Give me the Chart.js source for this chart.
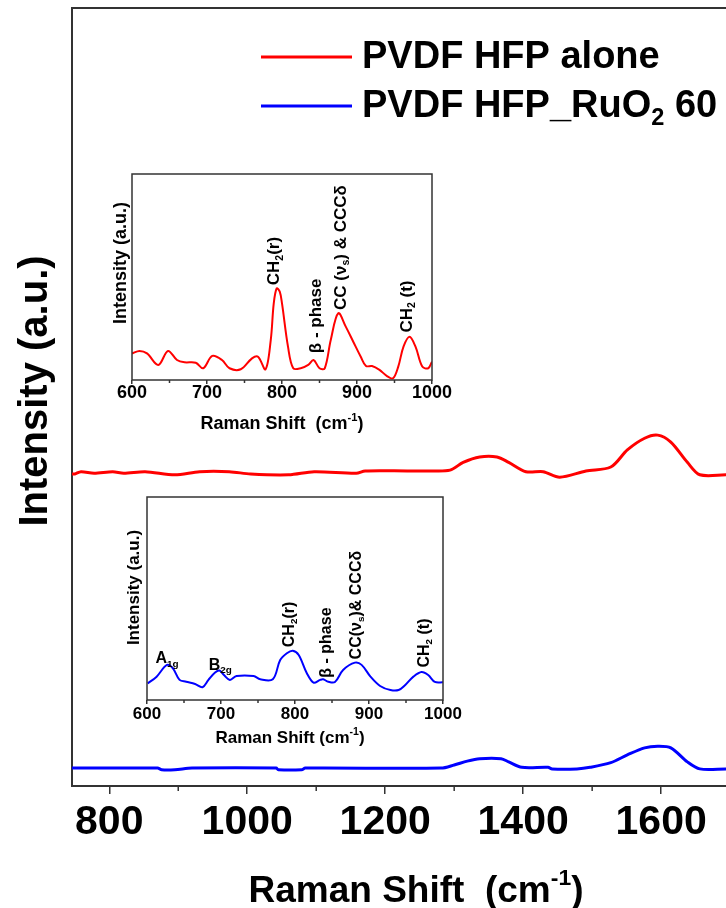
<!DOCTYPE html>
<html>
<head>
<meta charset="utf-8">
<script src="https://cdn.jsdelivr.net/npm/chart.js@4.4.1/dist/chart.umd.min.js"></script>
<style>
  body { margin: 0; background: #fff; }
  #wrap { position: relative; width: 726px; height: 908px; overflow: hidden; }
  canvas { position: absolute; }
</style>
</head>
<body>
<div id="wrap">
  <canvas id="main" width="726" height="908" style="left:0;top:0"></canvas>
  <canvas id="inset1" width="380" height="290" style="left:100px;top:160px"></canvas>
  <canvas id="inset2" width="380" height="290" style="left:115px;top:480px"></canvas>
</div>
<script>
// main spectra (arbitrary intensity units)
const shiftRed = [746, 750, 759, 778, 805, 821, 852, 895, 931, 974, 1005, 1060, 1097, 1158, 1171, 1232, 1264, 1294, 1313, 1337, 1362, 1379, 1404, 1429, 1453, 1491, 1527, 1551, 1576, 1595, 1614, 1638, 1656, 1694];
const intRed = [40.1, 40.1, 40.4, 40.2, 40.4, 40.2, 40.4, 40.0, 40.4, 40.4, 40.1, 40.0, 40.4, 40.2, 40.5, 40.5, 40.5, 40.6, 41.6, 42.3, 42.3, 41.6, 40.4, 40.4, 39.7, 40.5, 41.0, 43.2, 44.7, 45.1, 44.2, 41.6, 40.0, 40.0];
const shiftBlue = [746, 870, 876, 895, 920, 1042, 1045, 1079, 1084, 1281, 1300, 1319, 1337, 1368, 1379, 1398, 1436, 1442, 1478, 1497, 1527, 1551, 1576, 1595, 1614, 1638, 1656, 1694];
const intBlue = [2.3, 2.3, 2.1, 2.1, 2.3, 2.3, 2.1, 2.1, 2.3, 2.3, 2.7, 3.2, 3.5, 3.5, 3.1, 2.4, 2.4, 2.2, 2.2, 2.4, 3.0, 4.0, 4.9, 5.1, 4.9, 3.1, 2.2, 2.2];
const seriesNames = ['PVDF HFP alone', 'PVDF HFP_RuO_{2} 60'];
const mainMajorTicks = [800, 1000, 1200, 1400, 1600];
const mainMinorTicks = [900, 1100, 1300, 1500, 1700];

// inset 1 : PVDF HFP alone, 600-1000
const in1Shift = [600, 610, 620, 635, 648, 660, 670, 685, 695, 707, 720, 730, 745, 760, 768, 778, 785, 789, 793, 797, 800, 808, 815, 825, 835, 842, 850, 857, 865, 875, 885, 895, 905, 912, 920, 930, 940, 948, 955, 962, 970, 978, 987, 995, 1000];
const in1Int = [12.9, 14.1, 12.9, 7.3, 14.1, 9.7, 8.6, 8.4, 5.7, 11.7, 9.7, 5.7, 5.2, 10.5, 11.3, 5.2, 19.4, 37.2, 44.5, 42.9, 37.2, 16.2, 5.7, 5.7, 7.3, 9.7, 5.7, 5.7, 19.4, 32.4, 25.9, 18.6, 11.3, 6.8, 6.8, 4.9, 1.9, 0.8, 6.5, 16.2, 21.0, 16.2, 6.5, 5.7, 8.9];
const in1Peaks = ['CH_{2}(r)', 'β - phase', 'CC (ν_{s}) & CCCδ', 'CH_{2} (t)'];
const in1PeakX = [788, 844, 877, 965];
const in1PeakY = [46, 13, 34, 23];

// inset 2 : PVDF HFP_RuO2, 600-1000
const in2Shift = [601, 613, 627, 635, 644, 653, 665, 675, 683, 692, 698, 704, 712, 721, 744, 753, 770, 780, 789, 797, 805, 816, 825, 834, 838, 845, 854, 865, 881, 890, 902, 915, 929, 940, 949, 960, 971, 980, 989, 1000];
const in2Int = [8.2, 11.5, 17.3, 15.6, 9.9, 9.0, 7.9, 6.3, 9.9, 13.5, 14.5, 12.3, 9.9, 11.8, 11.8, 10.2, 10.2, 19.7, 23.0, 24.3, 22.2, 13.2, 8.6, 9.9, 10.2, 9.0, 8.9, 14.8, 18.4, 17.3, 11.5, 6.9, 4.9, 4.9, 7.4, 11.5, 13.8, 12.3, 8.9, 8.7];
const in2Peaks = ['A_{1g}', 'B_{2g}', 'CH_{2}(r)', 'β - phase', 'CC(ν_{s})& CCCδ', 'CH_{2} (t)'];
const in2PeakX = [627, 699, 791, 841, 881, 973];
const in2PeakY = [18, 15, 26, 11, 20, 16];

const insetMajorTicks = [600, 700, 800, 900, 1000];
const insetMinorTicks = [650, 750, 850, 950];

const FONT = '"Liberation Sans", Arial, sans-serif';

// text with _{sub} and ^{sup} parts
function parseRich(str) {
  const parts = [];
  const re = /([_^])\{([^}]*)\}/g;
  let last = 0, m;
  while ((m = re.exec(str))) {
    if (m.index > last) parts.push({ t: str.slice(last, m.index), k: 0 });
    parts.push({ t: m[2], k: m[1] === '_' ? 1 : -1 });
    last = re.lastIndex;
  }
  if (last < str.length) parts.push({ t: str.slice(last), k: 0 });
  return parts;
}

function drawRich(ctx, str, x, y, size, weight, align) {
  const parts = parseRich(str);
  let w = 0;
  parts.forEach(p => {
    p.size = p.k ? size * 0.62 : size;
    ctx.font = weight + ' ' + p.size + 'px ' + FONT;
    p.w = ctx.measureText(p.t).width;
    w += p.w;
  });
  let cx = align === 'center' ? x - w / 2 : x;
  ctx.textAlign = 'left';
  ctx.textBaseline = 'alphabetic';
  parts.forEach(p => {
    ctx.font = weight + ' ' + p.size + 'px ' + FONT;
    const dy = p.k === 1 ? size * 0.22 : (p.k === -1 ? -size * 0.45 : 0);
    ctx.fillText(p.t, cx, y + dy);
    cx += p.w;
  });
  return w;
}

function toPoints(xs, ys) {
  return xs.map((v, i) => ({ x: v, y: ys[i] }));
}

const mainDecor = {
  id: 'mainDecor',
  afterDraw(chart) {
    const { ctx, chartArea: a, scales: { x } } = chart;
    ctx.save();
    ctx.strokeStyle = '#333';
    ctx.lineWidth = 2;
    ctx.beginPath();
    ctx.moveTo(a.left, a.top);
    ctx.lineTo(a.right, a.top);
    ctx.stroke();
    ctx.lineWidth = 1.5;
    mainMinorTicks.forEach(v => {
      const px = x.getPixelForValue(v);
      if (px > a.right) return;
      ctx.beginPath();
      ctx.moveTo(px, a.bottom);
      ctx.lineTo(px, a.bottom + 5);
      ctx.stroke();
    });
    ctx.fillStyle = '#000';
    drawRich(ctx, 'Raman Shift  (cm^{-1})', a.left + 344, 902, 37, 'bold', 'center');
    ctx.translate(33, (a.top + a.bottom) / 2 - 6);
    ctx.rotate(-Math.PI / 2);
    drawRich(ctx, 'Intensity (a.u.)', 0, 40 * 0.35, 40, 'bold', 'center');
    ctx.restore();

    // legend
    ctx.save();
    chart.data.datasets.forEach((ds, i) => {
      const yy = 57 + i * 49;
      ctx.strokeStyle = ds.borderColor;
      ctx.lineWidth = 3;
      ctx.beginPath();
      ctx.moveTo(261, yy);
      ctx.lineTo(352, yy);
      ctx.stroke();
      ctx.fillStyle = '#000';
      drawRich(ctx, ds.label, 362, yy + 11, 38, 'bold', 'left');
    });
    ctx.restore();
  }
};

new Chart(document.getElementById('main'), {
  type: 'line',
  data: {
    datasets: [
      { label: seriesNames[0], data: toPoints(shiftRed, intRed), borderColor: '#ff0000', borderWidth: 3, pointRadius: 0, tension: 0.3 },
      { label: seriesNames[1], data: toPoints(shiftBlue, intBlue), borderColor: '#0000ff', borderWidth: 3, pointRadius: 0, tension: 0.3 }
    ]
  },
  options: {
    responsive: false,
    animation: false,
    layout: { padding: { top: 8, left: 0, right: 0, bottom: 0 } },
    plugins: { legend: { display: false }, tooltip: { enabled: false } },
    scales: {
      x: {
        type: 'linear',
        min: 746,
        max: 1694,
        grid: { drawOnChartArea: false, tickLength: 8, color: '#333', lineWidth: 1.5 },
        border: { display: true, color: '#333', width: 2 },
        ticks: {
          color: '#000', padding: 4, maxRotation: 0, autoSkip: false,
          font: { family: FONT, size: 41, weight: 'bold' },
          callback: v => String(v)
        },
        afterBuildTicks: s => { s.ticks = mainMajorTicks.map(v => ({ value: v })); },
        afterFit: s => { s.height = 122; }
      },
      y: {
        min: 0,
        max: 100,
        grid: { display: false },
        border: { display: true, color: '#333', width: 2 },
        ticks: { display: false },
        afterFit: s => { s.width = 72; }
      }
    }
  },
  plugins: [mainDecor]
});

function makeInset(id, xs, ys, color, cfg) {
  const decor = {
    id: 'insetDecor',
    afterDraw(chart) {
      const { ctx, chartArea: a, scales: { x, y } } = chart;
      ctx.save();
      ctx.strokeStyle = '#333';
      ctx.lineWidth = 1.5;
      ctx.strokeRect(a.left, a.top, a.right - a.left, a.bottom - a.top);
      insetMinorTicks.forEach(v => {
        const px = x.getPixelForValue(v);
        ctx.beginPath();
        ctx.moveTo(px, a.bottom);
        ctx.lineTo(px, a.bottom + 3);
        ctx.stroke();
      });
      ctx.fillStyle = '#000';
      drawRich(ctx, cfg.xTitle, (a.left + a.right) / 2 + cfg.xTitleDx, a.bottom + cfg.xTitleDy, cfg.titleSize, 'bold', 'center');
      ctx.save();
      ctx.translate(a.left + cfg.yTitleDx, (a.top + a.bottom) / 2 + cfg.yTitleDy);
      ctx.rotate(-Math.PI / 2);
      drawRich(ctx, 'Intensity (a.u.)', 0, cfg.titleSize * 0.35, cfg.titleSize, 'bold', 'center');
      ctx.restore();
      cfg.labels.forEach((t, i) => {
        const px = x.getPixelForValue(cfg.lx[i]);
        const py = y.getPixelForValue(cfg.ly[i]);
        if (cfg.upright && cfg.upright[i]) {
          drawRich(ctx, t, px, py, cfg.labelSize, 'bold', 'center');
        } else {
          ctx.save();
          ctx.translate(px, py);
          ctx.rotate(-Math.PI / 2);
          drawRich(ctx, t, 0, cfg.labelSize * 0.35, cfg.labelSize, 'bold', 'left');
          ctx.restore();
        }
      });
      ctx.restore();
    }
  };

  return new Chart(document.getElementById(id), {
    type: 'line',
    data: {
      datasets: [{ data: toPoints(xs, ys), borderColor: color, borderWidth: 2, pointRadius: 0, tension: 0.35 }]
    },
    options: {
      responsive: false,
      animation: false,
      layout: { padding: cfg.padding },
      plugins: { legend: { display: false }, tooltip: { enabled: false } },
      scales: {
        x: {
          type: 'linear',
          min: 600,
          max: 1000,
          grid: { drawOnChartArea: false, tickLength: 4, color: '#333', lineWidth: 1.5 },
          border: { display: false },
          ticks: {
            color: '#000', padding: cfg.tickPad, maxRotation: 0, autoSkip: false,
            font: { family: FONT, size: cfg.tickSize, weight: 'bold' },
            callback: v => String(v)
          },
          afterBuildTicks: s => { s.ticks = insetMajorTicks.map(v => ({ value: v })); },
          afterFit: s => { s.height = 70; }
        },
        y: { display: false, min: 0, max: 100 }
      }
    },
    plugins: [decor]
  });
}

makeInset('inset1', in1Shift, in1Int, '#ff0000', {
  padding: { left: 32, top: 14, right: 48, bottom: 0 },
  tickSize: 18, tickPad: -2, titleSize: 18, labelSize: 17,
  xTitle: 'Raman Shift  (cm^{-1})', xTitleDx: 0, xTitleDy: 49,
  yTitleDx: -12, yTitleDy: -14,
  labels: in1Peaks, lx: in1PeakX, ly: in1PeakY
});

makeInset('inset2', in2Shift, in2Int, '#0000ff', {
  padding: { left: 32, top: 17, right: 52, bottom: 0 },
  tickSize: 17, tickPad: 0, titleSize: 17, labelSize: 16,
  xTitle: 'Raman Shift (cm^{-1})', xTitleDx: -5, xTitleDy: 43,
  yTitleDx: -14, yTitleDy: -11,
  labels: in2Peaks, lx: in2PeakX, ly: in2PeakY,
  upright: [true, true, false, false, false, false]
});
</script>
</body>
</html>
